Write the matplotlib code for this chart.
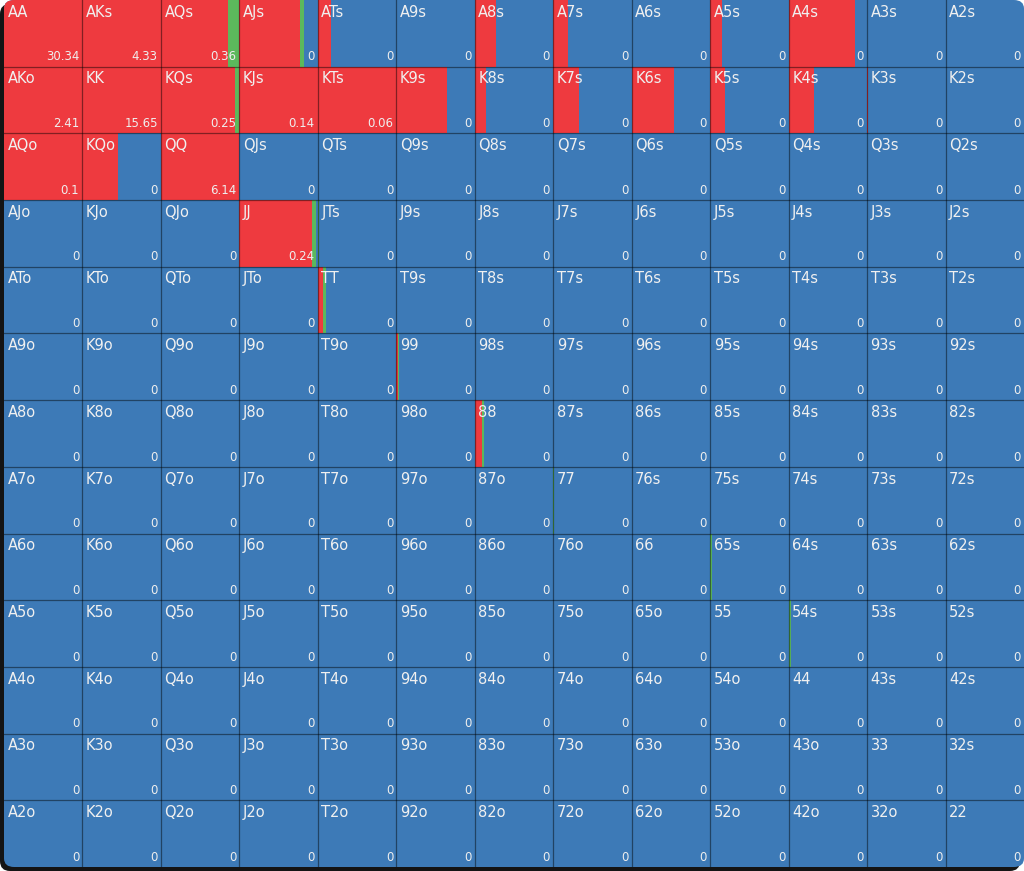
import matplotlib.pyplot as plt
from matplotlib.patches import FancyBboxPatch

ranks = ["A", "K", "Q", "J", "T", "9", "8", "7", "6", "5", "4", "3", "2"]

# share of raise (red) in each cell, row = first card, col = second card
raise_freq = [
    [1.00, 1.00, 0.86, 0.77, 0.17, 0, 0.27, 0.19, 0, 0.15, 0.85, 0, 0],
    [0.99, 1.00, 0.95, 1.00, 1.00, 0.64, 0.14, 0.33, 0.54, 0.19, 0.32, 0.01, 0],
    [1.00, 0.45, 1.00, 0, 0, 0, 0, 0, 0, 0, 0, 0, 0],
    [0, 0, 0, 0.92, 0, 0, 0, 0, 0, 0, 0, 0, 0],
    [0, 0, 0, 0, 0.07, 0, 0, 0, 0, 0, 0, 0, 0],
    [0, 0, 0, 0, 0, 0.02, 0, 0, 0, 0, 0, 0, 0],
    [0, 0, 0, 0, 0, 0, 0.09, 0, 0, 0, 0, 0, 0],
    [0, 0, 0, 0, 0, 0, 0, 0, 0, 0, 0, 0, 0],
    [0, 0, 0, 0, 0, 0, 0, 0, 0, 0, 0, 0, 0],
    [0, 0, 0, 0, 0, 0, 0, 0, 0, 0, 0, 0, 0],
    [0, 0, 0, 0, 0, 0, 0, 0, 0, 0, 0, 0, 0],
    [0, 0, 0, 0, 0, 0, 0, 0, 0, 0, 0, 0, 0],
    [0, 0, 0, 0, 0, 0, 0, 0, 0, 0, 0, 0, 0],
]

# share of call (green)
call_freq = [
    [0, 0, 0.14, 0.05, 0, 0, 0, 0, 0, 0, 0, 0, 0],
    [0.01, 0, 0.04, 0, 0, 0, 0, 0, 0, 0, 0, 0, 0],
    [0, 0, 0, 0, 0, 0, 0, 0, 0, 0, 0, 0, 0],
    [0, 0, 0, 0.06, 0.01, 0, 0, 0, 0, 0, 0, 0, 0],
    [0, 0, 0, 0, 0.03, 0, 0, 0, 0, 0, 0, 0, 0],
    [0, 0, 0, 0, 0, 0.01, 0, 0, 0, 0, 0, 0, 0],
    [0, 0, 0, 0, 0, 0, 0.03, 0, 0, 0, 0, 0, 0],
    [0, 0, 0, 0, 0, 0, 0, 0.01, 0.005, 0, 0, 0, 0],
    [0, 0, 0, 0, 0, 0, 0, 0, 0.01, 0.02, 0, 0, 0],
    [0, 0, 0, 0, 0, 0, 0, 0, 0, 0, 0.03, 0, 0],
    [0, 0, 0, 0, 0, 0, 0, 0, 0, 0, 0, 0, 0],
    [0, 0, 0, 0, 0, 0, 0, 0, 0, 0, 0, 0, 0],
    [0, 0, 0, 0, 0, 0, 0, 0, 0, 0, 0, 0, 0],
]

# number shown bottom right
ev = [
    ["30.34", "4.33", "0.36", "0", "0", "0", "0", "0", "0", "0", "0", "0", "0"],
    ["2.41", "15.65", "0.25", "0.14", "0.06", "0", "0", "0", "0", "0", "0", "0", "0"],
    ["0.1", "0", "6.14", "0", "0", "0", "0", "0", "0", "0", "0", "0", "0"],
    ["0", "0", "0", "0.24", "0", "0", "0", "0", "0", "0", "0", "0", "0"],
] + [["0"] * 13 for _ in range(9)]

RED = "#ee3a3f"
GREEN = "#5cb85c"
BLUE = "#3d7ab7"

W, H = 1024, 871
fig = plt.figure(figsize=(W / 100, H / 100), dpi=100)
fig.patch.set_facecolor("white")

# background axes in pixel units for the dark rounded frame
bg = fig.add_axes([0, 0, 1, 1])
bg.set_xlim(0, W)
bg.set_ylim(H, 0)
bg.axis("off")
bg.add_patch(FancyBboxPatch((0, 4), 1020, 867, boxstyle="round,pad=0,rounding_size=10",
                            fc="#141414", ec="none"))

gx0, gx1, gy0, gy1 = 4, 1024, 0, 867
ax = fig.add_axes([gx0 / W, (H - gy1) / H, (gx1 - gx0) / W, (gy1 - gy0) / H])
ax.set_xlim(0, 13)
ax.set_ylim(13, 0)
ax.axis("off")

clip = FancyBboxPatch((0, 0), 13, 13, boxstyle="round,pad=0,rounding_size=0.13",
                      fc="none", ec="none", transform=ax.transData)
ax.add_patch(clip)

n = len(ranks)
for i in range(n):
    for j in range(n):
        r = raise_freq[i][j]
        c = call_freq[i][j]
        bars = []
        bars += ax.bar(j, 1, width=1, bottom=i, align="edge", color=BLUE, linewidth=0)
        if r > 0:
            bars += ax.bar(j, 1, width=r, bottom=i, align="edge", color=RED, linewidth=0)
        if c > 0:
            bars += ax.bar(j + r, 1, width=c, bottom=i, align="edge", color=GREEN, linewidth=0)
        for b in bars:
            b.set_clip_path(clip)

        if i == j:
            name = ranks[i] + ranks[j]
        elif i < j:
            name = ranks[i] + ranks[j] + "s"
        else:
            name = ranks[j] + ranks[i] + "o"
        ax.text(j + 0.045, i + 0.07, name, ha="left", va="top", fontsize=10.5,
                color="#f0f0f0", family="DejaVu Sans")
        ax.text(j + 0.96, i + 0.95, ev[i][j], ha="right", va="bottom", fontsize=8.5,
                color="#eeeeee", family="DejaVu Sans")

for k in range(1, n):
    ax.axvline(k, color="black", alpha=0.45, lw=0.9)
    ax.axhline(k, color="black", alpha=0.45, lw=0.9)

fig.savefig("out.png", dpi=100, facecolor="white")
